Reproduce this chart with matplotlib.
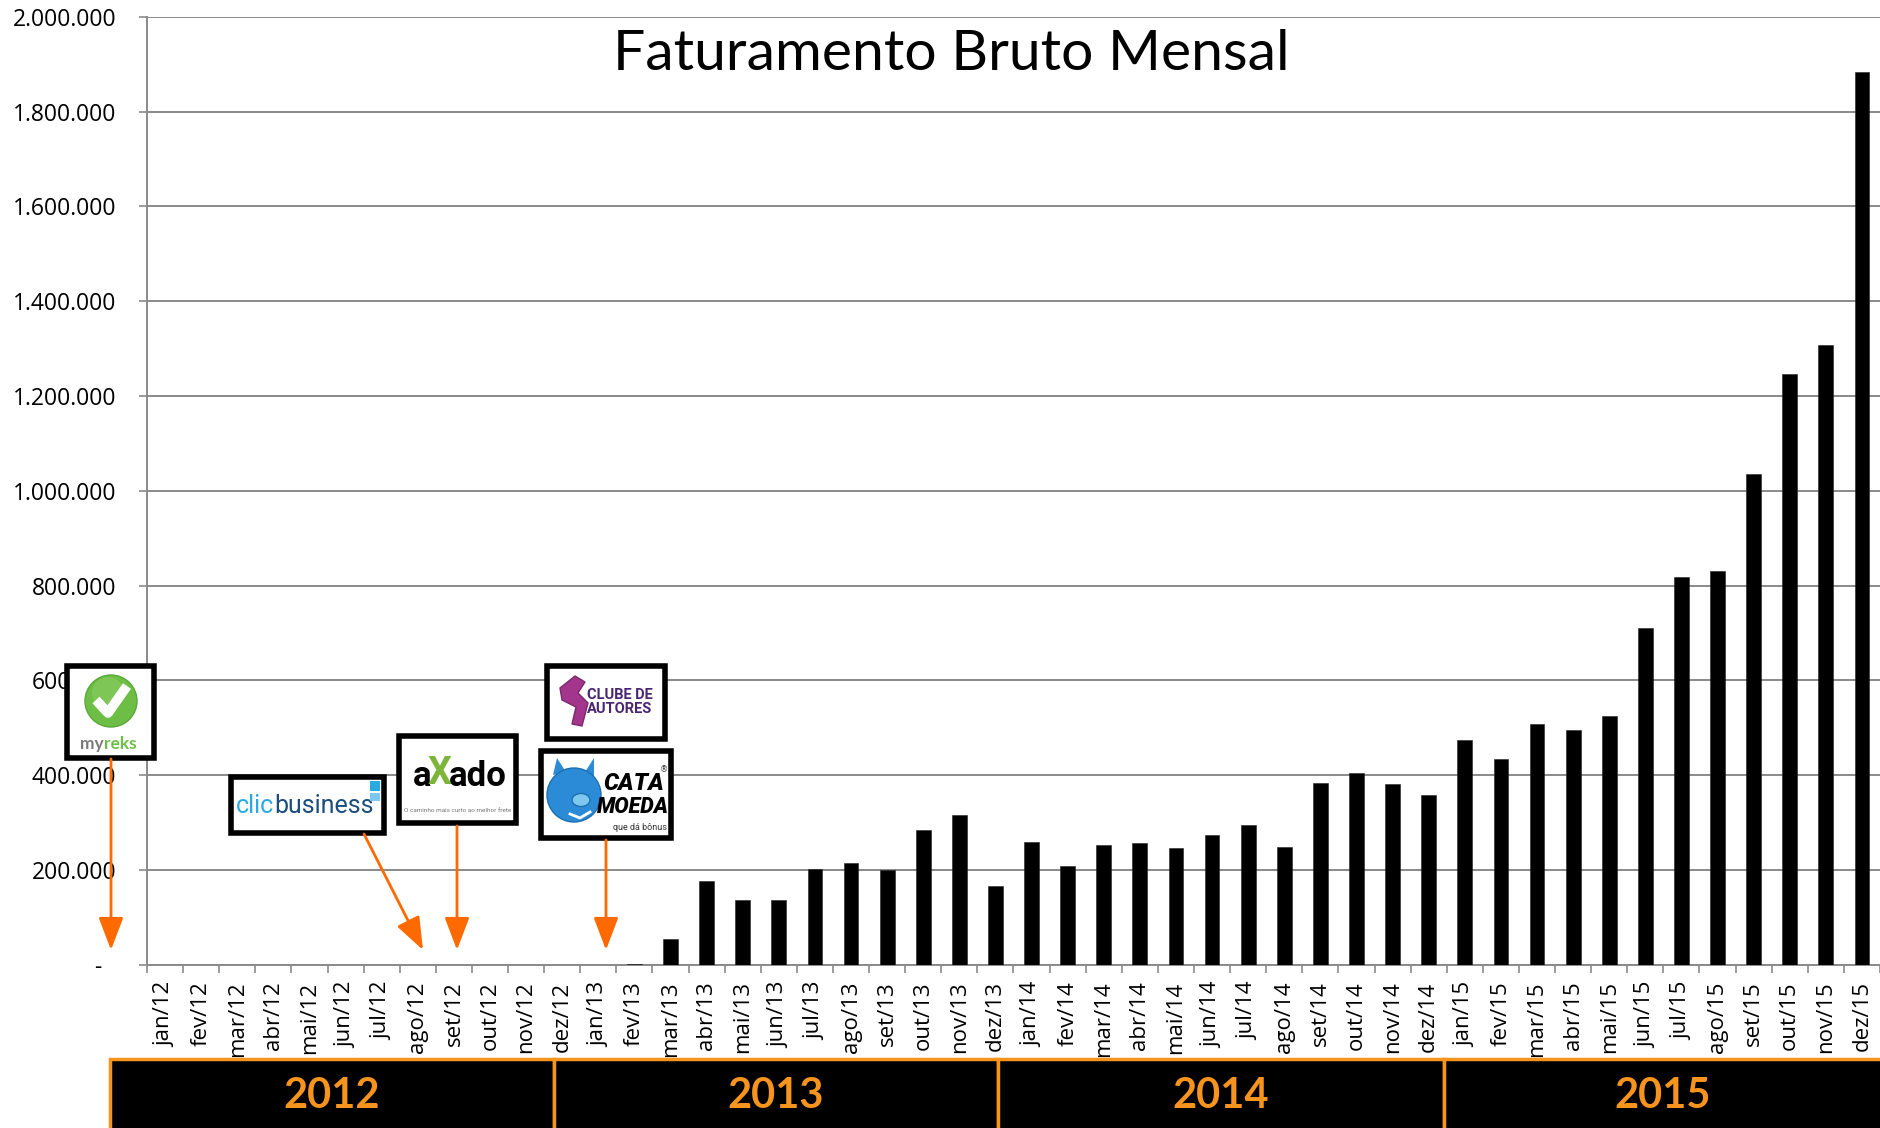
import matplotlib
matplotlib.use('Agg')
import matplotlib.pyplot as plt
from matplotlib.patches import Rectangle, Circle, Polygon, Ellipse
from matplotlib.transforms import ScaledTranslation

# ---------------- data ----------------
months = ['jan', 'fev', 'mar', 'abr', 'mai', 'jun', 'jul', 'ago', 'set', 'out', 'nov', 'dez']
year_suffix = ['12', '13', '14', '15']
categories = [f'{m}/{y}' for y in year_suffix for m in months]

rev_2012 = [0, 0, 0, 0, 0, 0, 0, 0, 0, 0, 0, 0]
rev_2013 = [500, 1500, 55000, 176000, 136000, 137000, 203000, 215000, 200500, 285000, 317000, 166000]
rev_2014 = [259000, 209000, 253000, 256000, 246000, 274000, 295500, 248000, 384000, 405000, 380500, 358000]
rev_2015 = [474000, 434000, 508000, 495000, 525000, 711000, 818000, 830000, 1035000, 1247000, 1307000, 1884000]
revenue = rev_2012 + rev_2013 + rev_2014 + rev_2015

y_ticks = [0, 200000, 400000, 600000, 800000, 1000000, 1200000, 1400000, 1600000, 1800000, 2000000]
y_tick_labels = ['-', '200.000', '400.000', '600.000', '800.000', '1.000.000', '1.200.000',
                 '1.400.000', '1.600.000', '1.800.000', '2.000.000']
year_labels = ['2012', '2013', '2014', '2015']
title = 'Faturamento Bruto Mensal'

# ---------------- figure ----------------
W, H = 1881, 1128
fig = plt.figure(figsize=(W / 100, H / 100), dpi=100)
fig.patch.set_facecolor('white')

ax_left, ax_right = 147, 1880
ax_top, ax_bottom = 16.7, 964.8
ax = fig.add_axes([ax_left / W, 1 - ax_bottom / H, (ax_right - ax_left) / W, (ax_bottom - ax_top) / H])

x = list(range(len(categories)))
ax.bar(x, revenue, width=0.41, color='black', edgecolor='#222222', linewidth=0.4, zorder=3)

ax.set_xlim(-0.5, len(categories) - 0.5)
ax.set_ylim(0, 2000000)

GRID = '#8a8a8a'
ax.set_yticks(y_ticks)
ax.set_yticklabels(y_tick_labels, fontsize=16.5, family='Open Sans')
ax.yaxis.grid(True, color=GRID, linewidth=1.4, zorder=0)
ax.tick_params(axis='y', length=6, width=1.2, color=GRID, pad=16)

ax.set_xticks(x)
ax.set_xticklabels(categories, rotation=90, fontsize=16, family='Open Sans', va='top')
ax.set_xticks([i - 0.5 for i in range(len(categories) + 1)], minor=True)
ax.tick_params(axis='x', which='major', length=0, pad=12)
ax.tick_params(axis='x', which='minor', length=5.5, width=1.2, color=GRID)

for s in ['top', 'right']:
    ax.spines[s].set_visible(False)
for s in ['left', 'bottom']:
    ax.spines[s].set_color(GRID)
    ax.spines[s].set_linewidth(1.4)
ax.set_axisbelow(True)

# shift the "-" zero label a little left (accounting style)
lbl0 = ax.get_yticklabels()[0]
lbl0.set_transform(lbl0.get_transform() + ScaledTranslation(-0.15, 0, fig.dpi_scale_trans))

# ---------------- overlay in pixel coordinates ----------------
ov = fig.add_axes([0, 0, 1, 1], zorder=10)
ov.set_xlim(0, W)
ov.set_ylim(H, 0)
ov.axis('off')
ov.patch.set_alpha(0)

ov.text(951, 54, title, ha='center', va='center', fontsize=41, family='Lato',
        fontweight='normal', color='black')

# year bands
ORANGE = '#F7941D'
band_edges = [110, 554, 998, 1444, 1884]
for i, yl in enumerate(year_labels):
    x0, x1 = band_edges[i], band_edges[i + 1]
    ov.add_patch(Rectangle((x0, 1059), x1 - x0, 80, facecolor='black', edgecolor=ORANGE, lw=2.5))
    ov.text((x0 + min(x1, W)) / 2, 1096, yl, ha='center', va='center', color=ORANGE,
            fontsize=30, fontweight='bold', family='Lato')

# logo boxes
def box(x0, y0, x1, y1):
    ov.add_patch(Rectangle((x0, y0), x1 - x0, y1 - y0, facecolor='white',
                           edgecolor='black', lw=4, zorder=5))

# myreks
box(67, 666, 154, 758)
ov.add_patch(Circle((111, 701), 26, facecolor='#6DBE45', edgecolor='#5aa83a', lw=1, zorder=6))
ov.add_patch(Circle((108, 693), 16, facecolor='#8fd16a', edgecolor='none', alpha=0.5, zorder=6))
ov.plot([96, 108, 127], [700, 713, 686], color='white', lw=7, solid_capstyle='butt', zorder=7)
ov.text(104, 744, 'my', ha='right', va='center', color='#7a7a7a', fontsize=12.5,
        family='Lato', fontweight='bold', zorder=7)
ov.text(104, 744, 'reks', ha='left', va='center', color='#6DBE45', fontsize=12.5,
        family='Lato', fontweight='bold', zorder=7)

# clicbusiness
box(231, 777, 384, 833)
ov.text(274, 806, 'clic', ha='right', va='center', color='#29ABE2', fontsize=18,
        family='Roboto', zorder=7)
ov.text(274, 806, 'business', ha='left', va='center', color='#1B4E7E', fontsize=18,
        family='Roboto', zorder=7)
ov.add_patch(Rectangle((370, 781), 10, 10, facecolor='#29ABE2', edgecolor='none', zorder=7))
ov.add_patch(Rectangle((370, 793), 10, 8, facecolor='#7cc8ee', edgecolor='none', zorder=7))

# axado
box(399, 736, 516, 823)
ov.text(431, 777, 'a', ha='right', va='center', color='black', fontsize=25,
        family='Roboto', fontweight='bold', zorder=7)
ov.text(440, 774, 'X', ha='center', va='center', color='#7DB43A', fontsize=27,
        family='Roboto', fontweight='bold', zorder=7)
ov.text(449, 777, 'ado', ha='left', va='center', color='black', fontsize=25,
        family='Roboto', fontweight='bold', zorder=7)
ov.text(457.5, 810, 'O caminho mais curto ao melhor frete', ha='center', va='center',
        color='#777777', fontsize=4.6, family='Roboto', zorder=7)

# clube de autores
box(547, 666, 665, 739)
ov.add_patch(Polygon([[560, 688], [575, 676], [585, 682], [578, 693], [588, 703],
                      [582, 726], [572, 724], [576, 707], [562, 700]],
                     closed=True, facecolor='#A3358C', edgecolor='#7c2a6c', lw=1, zorder=7))
ov.text(620, 702, 'CLUBE DE\nAUTORES', ha='center', va='center', color='#4A2670',
        fontsize=10.5, family='Roboto', fontweight='bold', linespacing=0.95, zorder=7)

# cata moeda
box(541, 751, 671, 838)
ov.add_patch(Polygon([[553, 775], [557, 758], [566, 772]], closed=True,
                     facecolor='#2B8BD6', edgecolor='none', zorder=6))
ov.add_patch(Polygon([[585, 772], [594, 758], [594, 778]], closed=True,
                     facecolor='#2B8BD6', edgecolor='none', zorder=6))
ov.add_patch(Circle((574, 795), 27, facecolor='#2B8BD6', edgecolor='#1d6fb0', lw=1, zorder=6))
ov.add_patch(Ellipse((581, 800), 18, 13, facecolor='#7EC8F0', edgecolor='#1d6fb0', lw=1, zorder=7))
ov.plot([570, 580, 590], [814, 818, 812], color='white', lw=2, zorder=7)
ov.text(634, 783, 'CATA', ha='center', va='center', color='black', fontsize=17,
        family='Roboto', fontweight='black', style='italic', zorder=7)
ov.text(633, 807, 'MOEDA', ha='center', va='center', color='black', fontsize=15.5,
        family='Roboto', fontweight='black', style='italic', zorder=7)
ov.text(640, 827, 'que dá bônus', ha='center', va='center', color='#333333', fontsize=6.5,
        family='Roboto', zorder=7)
ov.text(664, 770, '®', ha='center', va='center', color='#333333', fontsize=6,
        family='DejaVu Sans', zorder=7)

# orange arrows
ARROW = '#FF6A00'
arrows = [((111, 759), (111, 950)),
          ((364, 834), (423, 950)),
          ((457, 826), (457, 950)),
          ((606, 840), (606, 950))]
for start, tip in arrows:
    ov.annotate('', xy=tip, xytext=start, zorder=8,
                arrowprops=dict(arrowstyle='-|>,head_length=1.0,head_width=0.38',
                                color=ARROW, lw=2, mutation_scale=20,
                                shrinkA=0, shrinkB=0))

fig.savefig('out.png', dpi=100, facecolor='white')
